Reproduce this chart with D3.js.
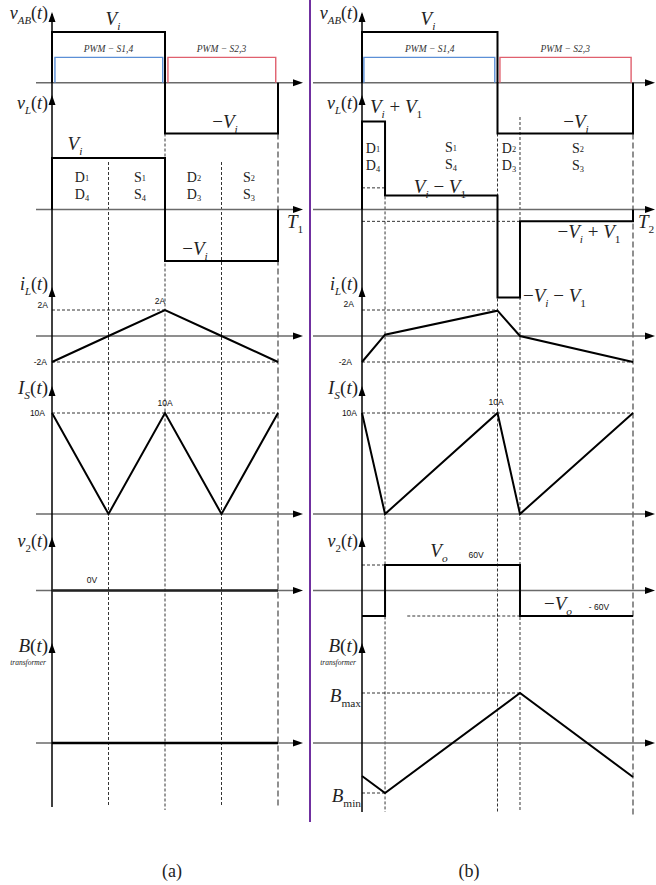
<!DOCTYPE html>
<html><head><meta charset="utf-8">
<script src="https://cdn.jsdelivr.net/npm/d3@7"></script>
<style>body{margin:0;background:#fff}</style>
</head><body>
<svg id="c" width="656" height="885"></svg>
<script>
// ---- data ----
const timesA = [0, 0.25, 0.5, 0.75, 1];
const timesB = [0, 0.085, 0.5, 0.583, 1];
const vAB_t = [0, 0, 0.5, 0.5, 1, 1];
const vAB_v = [0, 1, 1, -1, -1, 0];
const pwmLevel = 0.5;
const pwm14A = [0.013, 0.49], pwm23A = [0.513, 0.99];
const pwm14B = [0.007, 0.49], pwm23B = [0.509, 0.993];
const vLA_t = [0, 0, 0.5, 0.5, 1, 1];
const vLA_v = [0, 1, 1, -1, -1, 0];
const vLB_t = [0, 0, 0.085, 0.085, 0.5, 0.5, 0.583, 0.583, 1, 1];
const vLB_v = [0, 1.71, 1.71, 0.27, 0.27, -1.71, -1.71, -0.23, -0.23, 0];
const iLA = [-2, 0, 2, 0, -2];
const iLB = [-2, 0.1, 1.95, 0, -2];
const iSA = [10, 0, 10, 0, 10];
const iSB = [10, 0, 10, 0, 10];
const v2A_t = [0, 1];
const v2A_v = [0, 0];
const v2B_t = [0, 0.085, 0.085, 0.583, 0.583, 1];
const v2B_v = [-60, -60, 60, 60, -60, -60];
const BA_t = [0, 1];
const BA_v = [0, 0];
const BB_t = [0, 0.085, 0.583, 1];
const BB_v = [-0.66, -1, 1, -0.68];

// ---- scales ----
const svg = d3.select('#c');
const xA = d3.scaleLinear().domain([0, 1]).range([52, 278]);
const xB = d3.scaleLinear().domain([0, 1]).range([362, 633]);
const yAB = d3.scaleLinear().domain([-1, 1]).range([133.5, 32]);
const yL = d3.scaleLinear().domain([-1, 1]).range([261, 158]);
const yI = d3.scaleLinear().domain([-2, 2]).range([362, 310]);
const yS = d3.scaleLinear().domain([0, 10]).range([514, 413]);
const yV2 = d3.scaleLinear().domain([-60, 60]).range([616, 565]);
const yBf = d3.scaleLinear().domain([-1, 1]).range([793, 693]);

const serif = "'Liberation Serif','Times New Roman',serif";
const sans = "'Liberation Sans',Arial,sans-serif";

const gGuide = svg.append('g');
const gAxis = svg.append('g');
const gWave = svg.append('g');
const gText = svg.append('g');

function guideV(x, y1, y2, long) {
  gGuide.append('line').attr('x1', x).attr('x2', x).attr('y1', y1).attr('y2', y2)
    .attr('stroke', long ? '#555' : '#000').attr('stroke-width', long ? 1.3 : 0.8)
    .attr('stroke-dasharray', long ? '6,3' : '3,2');
}
function guideH(y, x1, x2) {
  gGuide.append('line').attr('x1', x1).attr('x2', x2).attr('y1', y).attr('y2', y)
    .attr('stroke', '#000').attr('stroke-width', 0.8).attr('stroke-dasharray', '3,2');
}
function wave(xs, ys, xsc, ysc, color, w) {
  const pts = xs.map((t, i) => [xsc(t), ysc(ys[i])]);
  gWave.append('path').attr('d', d3.line()(pts)).attr('fill', 'none')
    .attr('stroke', color || '#000').attr('stroke-width', w || 2).attr('stroke-linejoin', 'miter');
}
function hAxis(y, x1, x2) {
  gAxis.append('line').attr('x1', x1).attr('x2', x2 - 8).attr('y1', y).attr('y2', y)
    .attr('stroke', '#6a6a6a').attr('stroke-width', 1.6);
  gAxis.append('path').attr('d', `M${x2},${y} L${x2 - 10},${y - 3.5} L${x2 - 10},${y + 3.5} Z`).attr('fill', '#000');
}
function vArrow(x, y) {
  gAxis.append('path').attr('d', `M${x},${y} L${x - 3.5},${y + 10} L${x + 3.5},${y + 10} Z`).attr('fill', '#000');
}
function mlabel(x, y, parts, size, anchor, color, subShift) {
  const t = gText.append('text').attr('x', x).attr('y', y).attr('font-family', serif)
    .attr('font-size', size).attr('text-anchor', anchor || 'start').attr('fill', color || '#222');
  let shift = 0;
  const subDy = subShift !== undefined ? subShift : size * 0.28;
  parts.forEach(p => {
    const sp = t.append('tspan').text(p[0]);
    const isSub = p[1] === 's' || p[1] === 'sr';
    const target = isSub ? subDy : 0;
    if (target !== shift) { sp.attr('dy', target - shift); shift = target; }
    sp.attr('font-style', (p[1] === 'i' || p[1] === 's') ? 'italic' : 'normal');
    if (isSub) sp.attr('font-size', size * 0.6);
  });
  return t;
}
function small(x, y, s, anchor) {
  gText.append('text').attr('x', x).attr('y', y).attr('font-family', sans).attr('font-size', 8.5)
    .attr('text-anchor', anchor || 'start').attr('fill', '#111').text(s);
}

const axisYs = [yAB(0), yL(0), yI(0), yS(0), yV2(0), yBf(0)];
const arrowYs = [12, 95, 287, 386, 537, 643];

function panel(xs, times, side) {
  const ax = xs(0);
  if (side === 'A') {
    guideV(xs(0.25), yL(1) + 4, 807);
    guideV(xs(0.5), yAB(-1), 810);
    guideV(xs(0.75), yL(1) + 4, 807);
    guideV(xs(1), yAB(-1), 807, true);
    guideH(yI(2), xs(0), xs(0.5));
    guideH(yI(-2), xs(0), xs(1));
    guideH(yS(10), xs(0), xs(1));
  } else {
    guideV(xs(times[1]), yL(1.71), 812);
    guideV(xs(times[2]), yAB(-1), 812);
    guideV(xs(times[3]), 117, 812);
    guideV(xs(1), yAB(-1), 815, true);
    guideH(yL(0.42), xs(0), xs(times[1]));
    guideH(yL(-0.23), xs(0), xs(times[3]));
    guideH(yI(2), xs(0), xs(times[2]));
    guideH(yI(-2), xs(0), xs(1));
    guideH(yS(10), xs(0), xs(1));
    guideH(yV2(60), xs(0), xs(times[1]));
    guideH(yV2(-60), xs(0.167), xs(times[3]));
    guideH(yBf(1), xs(0), xs(times[3]));
    guideH(yBf(-1), xs(0), xs(times[1]));
  }
  const x1 = side === 'A' ? 36 : 313;
  const x2 = side === 'A' ? 303 : 655;
  axisYs.forEach(y => hAxis(y, x1, x2));
  gAxis.append('line').attr('x1', ax).attr('x2', ax).attr('y1', 14).attr('y2', side === 'A' ? 807 : 812)
    .attr('stroke', '#000').attr('stroke-width', 1.5);
  arrowYs.forEach(y => vArrow(ax, y));
}

panel(xA, timesA, 'A');
panel(xB, timesB, 'B');

// waveforms (a)
wave(vAB_t, vAB_v, xA, yAB);
wave([pwm14A[0], pwm14A[0], pwm14A[1], pwm14A[1]], [0, pwmLevel, pwmLevel, 0], xA, yAB, '#5b8fd6', 1.4);
wave([pwm23A[0], pwm23A[0], pwm23A[1], pwm23A[1]], [0, pwmLevel, pwmLevel, 0], xA, yAB, '#e0606e', 1.4);
wave(vLA_t, vLA_v, xA, yL);
wave(timesA, iLA, xA, yI);
wave(timesA, iSA, xA, yS);
wave(v2A_t, v2A_v, xA, yV2, '#222', 2.6);
wave(BA_t, BA_v, xA, yBf, '#000', 2.6);
// waveforms (b)
wave(vAB_t, vAB_v, xB, yAB);
wave([pwm14B[0], pwm14B[0], pwm14B[1], pwm14B[1]], [0, pwmLevel, pwmLevel, 0], xB, yAB, '#5b8fd6', 1.4);
wave([pwm23B[0], pwm23B[0], pwm23B[1], pwm23B[1]], [0, pwmLevel, pwmLevel, 0], xB, yAB, '#e0606e', 1.4);
wave(vLB_t, vLB_v, xB, yL);
wave(timesB, iLB, xB, yI);
wave(timesB, iSB, xB, yS);
wave(v2B_t, v2B_v, xB, yV2);
wave(BB_t, BB_v, xB, yBf);

// divider
svg.append('line').attr('x1', 310).attr('x2', 310).attr('y1', 0).attr('y2', 822)
  .attr('stroke', '#7030a0').attr('stroke-width', 2);

// axis names
function names(ax) {
  const xe = ax - 4;
  mlabel(xe, 19, [['v', 'i'], ['AB', 's'], ['(', 'r'], ['t', 'i'], [')', 'r']], 18, 'end');
  mlabel(xe, 109, [['v', 'i'], ['L', 's'], ['(', 'r'], ['t', 'i'], [')', 'r']], 18, 'end');
  mlabel(xe, 290, [['i', 'i'], ['L', 's'], ['(', 'r'], ['t', 'i'], [')', 'r']], 18, 'end');
  mlabel(xe, 394, [['I', 'i'], ['S', 's'], ['(', 'r'], ['t', 'i'], [')', 'r']], 19, 'end');
  mlabel(xe, 547, [['v', 'i'], ['2', 'sr'], ['(', 'r'], ['t', 'i'], [')', 'r']], 18, 'end');
  mlabel(xe, 652, [['B', 'i'], ['(', 'r'], ['t', 'i'], [')', 'r']], 19, 'end');
  gText.append('text').attr('x', xe - 2).attr('y', 665).attr('font-family', serif).attr('font-style', 'italic')
    .attr('font-size', 7.5).attr('text-anchor', 'end').attr('fill', '#222').text('transformer');
}
names(xA(0));
names(xB(0));

// PWM labels
function pwmLabel(x, s) {
  gText.append('text').attr('x', x).attr('y', 52).attr('font-family', serif).attr('font-style', 'italic')
    .attr('font-size', 9.5).attr('text-anchor', 'middle').attr('fill', '#333').text(s);
}
pwmLabel(xA(0.25), 'PWM − S1,4');
pwmLabel(xA(0.75), 'PWM − S2,3');
pwmLabel(xB(0.25), 'PWM − S1,4');
pwmLabel(xB(0.75), 'PWM − S2,3');

// (a) text
mlabel(113, 25, [['V', 'i'], ['i', 's']], 19, 'middle');
mlabel(225, 128, [['−', 'r'], ['V', 'i'], ['i', 's']], 19, 'middle');
mlabel(75, 150, [['V', 'i'], ['i', 's']], 19, 'middle');
mlabel(195, 255, [['−', 'r'], ['V', 'i'], ['i', 's']], 19, 'middle');
mlabel(287, 228, [['T', 'i'], ['1', 'sr']], 19, 'start');
// stacked device pair (two separate lines)
function pair(x, y1, y2, L, a, b) {
  mlabel(x, y1, [[L, 'r'], [a, 'sr']], 14, 'middle', '#222', -1);
  mlabel(x, y2, [[L, 'r'], [b, 'sr']], 14, 'middle', '#222', 2);
}
pair(82, 182, 198.5, 'D', '1', '4');
pair(140, 182, 198.5, 'S', '1', '4');
pair(194, 182, 198.5, 'D', '2', '3');
pair(249, 182, 198.5, 'S', '2', '3');
small(48, 308, '2A', 'end');
small(160, 304, '2A', 'middle');
small(47, 365, '-2A', 'end');
small(45, 416, '10A', 'end');
small(165, 406, '10A', 'middle');
small(92, 583, '0V', 'middle');

// (b) text
mlabel(428, 25, [['V', 'i'], ['i', 's']], 19, 'middle');
mlabel(576, 128, [['−', 'r'], ['V', 'i'], ['i', 's']], 19, 'middle');
mlabel(370, 113, [['V', 'i'], ['i', 's'], [' + ', 'r'], ['V', 'i'], ['1', 'sr']], 19, 'start');
pair(373, 153, 169.5, 'D', '1', '4');
pair(451, 152, 168.5, 'S', '1', '4');
pair(509, 153, 169.5, 'D', '2', '3');
pair(578, 153, 169.5, 'S', '2', '3');
mlabel(440, 193, [['V', 'i'], ['i', 's'], [' − ', 'r'], ['V', 'i'], ['1', 'sr']], 19, 'middle');
mlabel(638, 228, [['T', 'i'], ['2', 'sr']], 19, 'start');
mlabel(589, 238, [['−', 'r'], ['V', 'i'], ['i', 's'], [' + ', 'r'], ['V', 'i'], ['1', 'sr']], 19, 'middle');
mlabel(523, 302, [['−', 'r'], ['V', 'i'], ['i', 's'], [' − ', 'r'], ['V', 'i'], ['1', 'sr']], 19, 'start');
small(354, 307, '2A', 'end');
small(352, 365, '-2A', 'end');
small(357, 416, '10A', 'end');
small(496, 405, '10A', 'middle');
mlabel(439, 557, [['V', 'i'], ['o', 's']], 19, 'middle');
small(476, 558, '60V', 'middle');
mlabel(558, 610, [['−', 'r'], ['V', 'i'], ['o', 's']], 19, 'middle');
small(599, 610, '- 60V', 'middle');
mlabel(361, 702, [['B', 'i'], ['max', 'sr']], 19, 'end');
mlabel(361, 802, [['B', 'i'], ['min', 'sr']], 19, 'end');

// captions
gText.append('text').attr('x', 172).attr('y', 877).attr('font-family', serif).attr('font-size', 18)
  .attr('text-anchor', 'middle').attr('fill', '#222').text('(a)');
gText.append('text').attr('x', 469).attr('y', 877).attr('font-family', serif).attr('font-size', 18)
  .attr('text-anchor', 'middle').attr('fill', '#222').text('(b)');
</script>
</body></html>
